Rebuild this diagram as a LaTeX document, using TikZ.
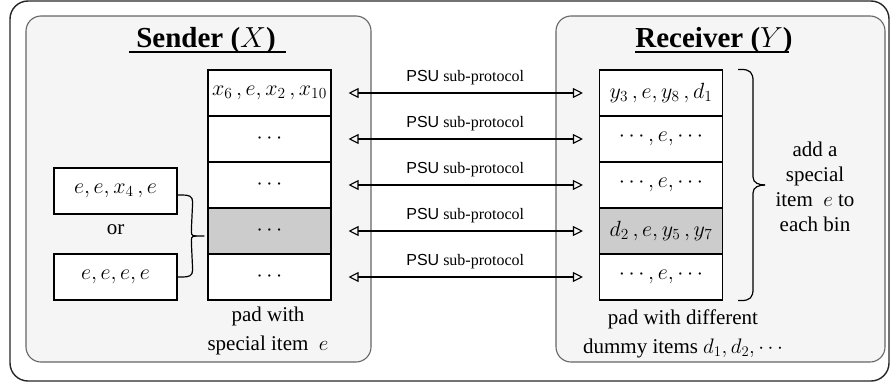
\RequirePackage{fix-cm}
\documentclass[tikz,border=0pt]{standalone}
\usepackage{fontspec}
\setmainfont{Liberation Serif}
\setsansfont{Liberation Sans}
\usetikzlibrary{arrows.meta,calc}

\definecolor{panelfill}{HTML}{F5F5F5}
\definecolor{panelline}{HTML}{666666}
\definecolor{hibin}{HTML}{CCCCCC}

\tikzset{
  panel/.style={draw=panelline, fill=panelfill, line width=1.1pt, rounded corners=15pt},
  bin/.style={draw=black, fill=white, line width=1.1pt, minimum width=123pt,
              minimum height=46pt, inner sep=0pt, font=\fontsize{22}{26}\selectfont},
  hot/.style={bin, fill=hibin},
  title/.style={font=\fontsize{29}{34}\selectfont\bfseries, inner sep=0pt},
  rule/.style={line width=1.3pt},
  body/.style={font=\fontsize{21}{29}\selectfont, align=center, inner sep=0pt},
  psu/.style={font=\fontsize{16}{18}\selectfont, inner sep=0pt},
  link/.style={line width=1.1pt,
    {Triangle[open,length=10pt,width=10pt]}-{Triangle[open,length=10pt,width=10pt]},
    shorten <=17pt, shorten >=16pt},
  brace/.style={line width=1.2pt},
}

\begin{document}
\begin{tikzpicture}[x=1pt, y=-1pt]
\useasboundingbox (0,0) rectangle (891,383);

% outer frame and the two parties
\draw[line width=1.4pt, draw=black!85, rounded corners=18pt] (10,1) rectangle (889,381);
\draw[panel] (26,16) rectangle (371,362);
\draw[panel] (556,16) rectangle (885,362);

\node[title, anchor=base] (tx) at (206,47) {Sender ($X$)};
\node[title, anchor=base] (ty) at (714,47) {Receiver ($Y$)};
\draw[rule] ($(tx.base west)+(-7,5)$) -- ($(tx.base east)+(10,5)$);
\draw[rule] ($(ty.base west)+(0,5)$) -- ($(ty.base east)+(-4,5)$);

% sender bins
\node[bin] (s1) at (269.5,93)  {$x_6\,, e, x_2\,, x_{10}$};
\node[bin] (s2) at (269.5,139) {$\cdots$};
\node[bin] (s3) at (269.5,185) {$\cdots$};
\node[hot] (s4) at (269.5,231) {$\cdots$};
\node[bin] (s5) at (269.5,277) {$\cdots$};

% receiver bins
\node[bin] (r1) at (661,93)  {$y_3\,, e, y_8\,, d_1$};
\node[bin] (r2) at (661,139) {$\cdots, e, \cdots$};
\node[bin] (r3) at (661,185) {$\cdots, e, \cdots$};
\node[hot] (r4) at (661,231) {$d_2\,, e, y_5\,, y_7$};
\node[bin] (r5) at (661,277) {$\cdots, e, \cdots$};

% possible contents of the highlighted sender bin
\node[bin, line width=1.3pt] (ka) at (115.5,191) {$e, e, x_4\,, e$};
\node[bin, line width=1.3pt] (kb) at (115.5,277) {$e, e, e, e$};
\node[body] (or) at (115.5,230) {or};

% brace joining the two alternatives to the bin
\coordinate (ba) at ($(ka.east)+(0,4)$);
\coordinate (bb) at (kb.east);
\coordinate (bt) at ($(s4.west)+(-3,5)$);
\draw[brace] (ba) -- ++(5,0) .. controls ++(6,0) and ++(0,-6) .. ++(10,7)
  -- ($(bt)+(-13,-8)$) .. controls ++(0,6) and ++(-6,0) .. ($(bt)+(-8,0)$) -- (bt);
\draw[brace] (bb) -- ++(5,0) .. controls ++(6,0) and ++(0,6) .. ++(10,-7)
  -- ($(bt)+(-13,8)$) .. controls ++(0,-6) and ++(-6,0) .. ($(bt)+(-8,0)$);

% brace over the receiver bins
\coordinate (rt) at (765,185);
\draw[brace] ($(r1.north east)+(15,0)$) -- ++(3,0) .. controls ++(9,0) and ++(0,-9) .. ++(12,12)
  -- ($(rt)+(-12,-8)$) .. controls ++(0,6) and ++(-6,0) .. (rt);
\draw[brace] ($(r5.south east)+(15,0)$) -- ++(3,0) .. controls ++(9,0) and ++(0,9) .. ++(12,-12)
  -- ($(rt)+(-12,8)$) .. controls ++(0,-6) and ++(-6,0) .. (rt);

\node[body, font=\fontsize{21}{25}\selectfont] (add) at (815,187)
  {add a\\special\\item ~$e$ to\\each bin};

% per-bin PSU sub-protocol runs
\foreach \i in {1,...,5}{
  \draw[link] (s\i.east) -- (r\i.west)
    node[psu, midway, above=8pt] (p\i) {\textsf{PSU} sub-protocol};
}

% padding notes
\node[body] (padx) at (268,331) {pad with\\special item ~$e$};
\node[body] (pady) at (683,334) {pad with different\\dummy items $d_1, d_2, \cdots$};
\end{tikzpicture}
\end{document}
